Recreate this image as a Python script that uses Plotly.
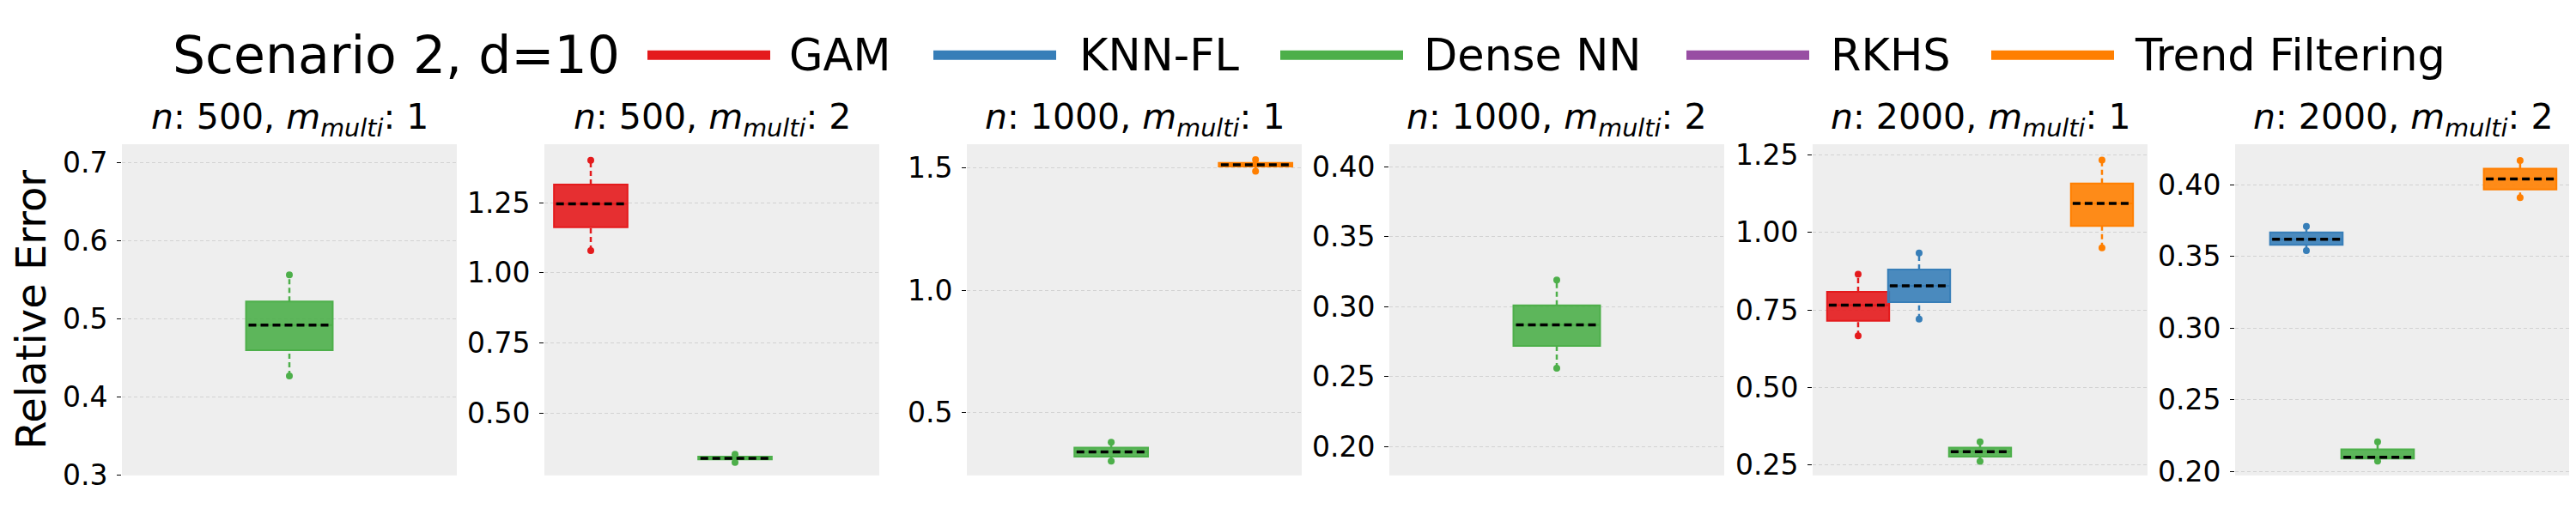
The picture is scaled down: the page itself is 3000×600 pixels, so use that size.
import plotly.graph_objects as go
from plotly.subplots import make_subplots

# Methods and colours (Set1 palette)
methods = ["GAM", "KNN-FL", "Dense NN", "RKHS", "Trend Filtering"]
colors = ["#e41a1c", "#377eb8", "#4daf4a", "#984ea3", "#ff7f00"]
fills = ["rgba(228,26,28,0.9)", "rgba(55,126,184,0.9)", "rgba(77,175,74,0.9)",
         "rgba(152,78,163,0.9)", "rgba(255,127,0,0.9)"]
positions = [1, 2, 3, 4, 5]

# Panels
n_values = [500, 500, 1000, 1000, 2000, 2000]
m_values = [1, 2, 1, 2, 1, 2]

# Box statistics: one row per panel, one column per method (None = not run)
whisker_low = [
    [None, None, 0.427, None, None],
    [1.079, None, 0.323, None, None],
    [None, None, 0.302, None, 1.487],
    [None, None, 0.256, None, None],
    [0.666, 0.720, 0.261, None, 0.950],
    [None, 0.354, 0.207, None, 0.391],
]
q1 = [
    [None, None, 0.460, None, None],
    [1.163, None, 0.334, None, None],
    [None, None, 0.321, None, 1.506],
    [None, None, 0.272, None, None],
    [0.715, 0.775, 0.276, None, 1.021],
    [None, 0.358, 0.2088, None, 0.3967],
]
median = [
    [None, None, 0.492, None, None],
    [1.246, None, 0.338, None, None],
    [None, None, 0.340, None, 1.513],
    [None, None, 0.287, None, None],
    [0.765, 0.828, 0.292, None, 1.094],
    [None, 0.362, 0.2097, None, 0.404],
]
q3 = [
    [None, None, 0.522, None, None],
    [1.315, None, 0.344, None, None],
    [None, None, 0.357, None, 1.521],
    [None, None, 0.301, None, None],
    [0.808, 0.880, 0.305, None, 1.158],
    [None, 0.3668, 0.2153, None, 0.4112],
]
whisker_high = [
    [None, None, 0.556, None, None],
    [1.402, None, 0.352, None, None],
    [None, None, 0.379, None, 1.534],
    [None, None, 0.319, None, None],
    [0.865, 0.934, 0.324, None, 1.234],
    [None, 0.371, 0.2206, None, 0.417],
]

# axis settings per panel
x_ranges = [[1.03, 4.97], [0.357, 5.0], [1.0, 5.64], [1.03, 4.97], [0.254, 5.747], [1.0, 5.70]]
y_ranges = [[0.3, 0.723], [0.277, 1.459], [0.244, 1.597], [0.1795, 0.416], [0.2155, 1.285], [0.1971, 0.4283]]
y_dticks = [0.1, 0.25, 0.5, 0.05, 0.25, 0.05]
y_formats = [".1f", ".2f", ".1f", ".2f", ".2f", ".2f"]

W, H = 3000, 600
box_width = 1.02
font = "DejaVu Sans"

fig = make_subplots(rows=1, cols=6)

for p in range(6):
    col = p + 1
    for k, m in enumerate(methods):
        if median[p][k] is None:
            continue
        x = positions[k]
        # whiskers
        fig.add_trace(go.Scatter(
            x=[x, x, None, x, x],
            y=[whisker_low[p][k], q1[p][k], None, q3[p][k], whisker_high[p][k]],
            mode="lines", line=dict(color=colors[k], width=2.5, dash="6px,4px"),
            showlegend=False, hoverinfo="skip"), row=1, col=col)
        fig.add_trace(go.Scatter(
            x=[x, x], y=[whisker_low[p][k], whisker_high[p][k]],
            mode="markers", marker=dict(color=colors[k], size=8),
            showlegend=False, hoverinfo="skip"), row=1, col=col)
        # box body
        fig.add_trace(go.Box(
            x=[x], q1=[q1[p][k]], median=[median[p][k]], q3=[q3[p][k]],
            lowerfence=[q1[p][k]], upperfence=[q3[p][k]],
            width=box_width, fillcolor=fills[k],
            line=dict(color=colors[k], width=2),
            name=m, showlegend=False), row=1, col=col)
        # median
        fig.add_trace(go.Scatter(
            x=[x - box_width / 2 + 0.03, x + box_width / 2 - 0.03],
            y=[median[p][k], median[p][k]],
            mode="lines", line=dict(color="black", width=3.5, dash="9px,5px"),
            showlegend=False, hoverinfo="skip"), row=1, col=col)

# panel placement (px)
panel_left = [134, 626, 1118, 1610, 2103, 2595]
panel_w = 390
y_dom = [1 - 564.3 / H, 1 - 161 / H]

for p in range(6):
    sfx = "" if p == 0 else str(p + 1)
    fig.update_layout({
        f"xaxis{sfx}": dict(
            domain=[panel_left[p] / W, (panel_left[p] + panel_w) / W],
            range=x_ranges[p], showgrid=False, zeroline=False,
            showticklabels=False, ticks=""),
        f"yaxis{sfx}": dict(
            domain=y_dom, range=y_ranges[p], tick0=0, dtick=y_dticks[p],
            tickformat=y_formats[p], showgrid=True, gridcolor="#d2d2d2",
            gridwidth=1, griddash="4px,3px", zeroline=False,
            ticks="outside", ticklen=5, tickwidth=1, tickcolor="black",
            ticklabelstandoff=4,
            tickfont=dict(size=33, color="black", family=font)),
    })
    fig.add_annotation(
        text=f"<i>n</i>: {n_values[p]}, <i>m</i><sub><i>multi</i></sub>: {m_values[p]}",
        x=0.5, y=1, xref=f"x{sfx} domain", yref=f"y{sfx} domain",
        xanchor="center", yanchor="bottom", showarrow=False,
        font=dict(size=41, color="black", family=font))

fig.update_yaxes(title=dict(text="Relative Error", standoff=16,
                            font=dict(size=48, color="black", family=font)),
                 row=1, col=1)

# legend drawn across the top
legend_line_x = [746, 1079, 1483, 1956, 2311]
legend_text_x = [909, 1247, 1648, 2122, 2476]
legend_y = 1 - 52.5 / H
fig.add_annotation(text="Scenario 2, d=10", x=191 / W, y=legend_y, xref="paper", yref="paper",
                   xanchor="left", yanchor="middle", showarrow=False,
                   font=dict(size=60, color="black", family=font))
for k, m in enumerate(methods):
    fig.add_shape(type="line", xref="paper", yref="paper",
                  x0=legend_line_x[k] / W, x1=(legend_line_x[k] + 143) / W,
                  y0=legend_y, y1=legend_y, line=dict(color=colors[k], width=11))
    fig.add_annotation(text=m, x=legend_text_x[k] / W, y=legend_y, xref="paper", yref="paper",
                       xanchor="left", yanchor="middle", showarrow=False,
                       font=dict(size=51, color="black", family=font))

fig.update_layout(
    width=W, height=H,
    margin=dict(l=0, r=0, t=0, b=0),
    paper_bgcolor="white", plot_bgcolor="#eeeeee",
    font=dict(family=font, color="black"),
    boxmode="overlay", showlegend=False,
)

fig.write_html("out.html")
